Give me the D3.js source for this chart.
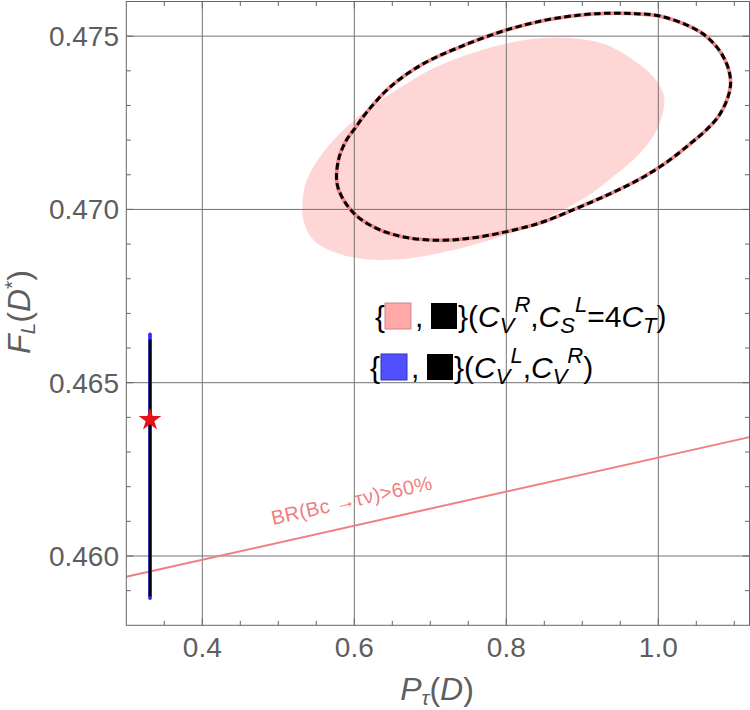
<!DOCTYPE html>
<html><head><meta charset="utf-8">
<script src="https://cdn.jsdelivr.net/npm/d3@7"></script>
<style>body{margin:0;background:#fff} svg{display:block;font-family:"Liberation Sans",Arial,sans-serif}</style>
</head><body>
<svg id="c" width="750" height="710"></svg>
<script>
// ---- data ----
const xTicks = [0.4, 0.6, 0.8, 1.0];
const xLabels = ["0.4", "0.6", "0.8", "1.0"];
const yTicks = [0.460, 0.465, 0.470, 0.475];
const yLabels = ["0.460", "0.465", "0.470", "0.475"];

// filled pink region (C_V^R, C_S^L = 4 C_T)
const fillX = [0.5321,0.5374,0.5549,0.5812,0.6163,0.6558,0.6996,0.7479,0.8005,0.8443,0.8882,0.9321,0.9671,0.9934,1.0066,1.0075,0.9979,0.9759,0.9408,0.9058,0.8663,0.8180,0.7654,0.7128,0.6601,0.6163,0.5768,0.5461,0.5329];
const fillY = [0.47027,0.47085,0.47152,0.47220,0.47287,0.47345,0.47402,0.47446,0.47479,0.47494,0.47494,0.47475,0.47431,0.47383,0.47335,0.47297,0.47229,0.47162,0.47095,0.47037,0.46989,0.46941,0.46903,0.46874,0.46856,0.46856,0.46874,0.46912,0.46970];

// outlined contour (pink solid + black dashed)
const ringX = [0.5772,0.5792,0.5891,0.6022,0.6154,0.6470,0.6904,0.7391,0.8005,0.8532,0.8970,0.9325,0.9693,1.0022,1.0374,1.0592,1.0768,1.0878,1.0937,1.0950,1.0904,1.0790,1.0615,1.0417,1.0115,0.9759,0.9365,0.8878,0.8443,0.8005,0.7562,0.7128,0.6690,0.6338,0.6049,0.5865];
const ringY = [0.47076,0.47143,0.47198,0.47238,0.47278,0.47353,0.47420,0.47469,0.47518,0.47547,0.47561,0.47566,0.47565,0.47558,0.47532,0.47506,0.47469,0.47431,0.47394,0.47359,0.47316,0.47268,0.47226,0.47189,0.47137,0.47088,0.47045,0.46999,0.46961,0.46936,0.46918,0.46911,0.46919,0.46941,0.46978,0.47025];

// (C_V^L, C_V^R) : thin vertical band
const bandX = [0.3312, 0.3312];
const bandY = [0.45878, 0.46640];

// Standard-model point
const starX = [0.3312];
const starY = [0.46393];

// BR(Bc -> tau nu) > 60% boundary
const brX = [0.30, 1.12];
const brY = [0.45940, 0.46343];

// ---- drawing ----
const svg = d3.select("#c");
const x = d3.scaleLinear().domain([0.3, 1.12]).range([126.3, 749.5]);
const y = d3.scaleLinear().domain([0.458, 0.476]).range([625.3, 1.5]);
const [x0, x1] = x.range(), [y0, y1] = y.range();

svg.append("defs").append("clipPath").attr("id", "clip")
  .append("rect").attr("x", x0).attr("y", y1).attr("width", x1 - x0).attr("height", y0 - y1);

const plot = svg.append("g").attr("clip-path", "url(#clip)");
const closed = d3.line().x(d => x(d[0])).y(d => y(d[1])).curve(d3.curveCatmullRomClosed.alpha(0.5));
const straight = d3.line().x(d => x(d[0])).y(d => y(d[1]));

// filled region
plot.append("path").attr("d", closed(d3.zip(fillX, fillY)))
  .attr("fill", "#ffd6d6").attr("stroke", "none");

// gridlines
plot.selectAll(".gx").data(xTicks).join("line")
  .attr("x1", d => x(d)).attr("x2", d => x(d)).attr("y1", y0).attr("y2", y1)
  .attr("stroke", "#737373").attr("stroke-width", 1);
plot.selectAll(".gy").data(yTicks).join("line")
  .attr("y1", d => y(d)).attr("y2", d => y(d)).attr("x1", x0).attr("x2", x1)
  .attr("stroke", "#737373").attr("stroke-width", 1);

// BR line
plot.append("path").attr("d", straight(d3.zip(brX, brY)))
  .attr("stroke", "#f08080").attr("stroke-width", 2).attr("fill", "none");

// BR label
const ang = Math.atan2(y(brY[1]) - y(brY[0]), x(brX[1]) - x(brX[0])) * 180 / Math.PI;
const lx = 273, ly = y(brY[0]) + (lx - x(brX[0])) * Math.tan(ang * Math.PI / 180) - 19;
svg.append("text").attr("transform", `translate(${lx},${ly}) rotate(${ang})`)
  .attr("fill", "#f08080").attr("font-size", 20).attr("textLength", 164)
  .text("BR(Bc →τν)>60%");

// ring contour
const ringD = closed(d3.zip(ringX, ringY));
plot.append("path").attr("d", ringD).attr("fill", "none")
  .attr("stroke", "#f08a8a").attr("stroke-width", 3.8);
plot.append("path").attr("d", ringD).attr("fill", "none")
  .attr("stroke", "#000").attr("stroke-width", 3).attr("stroke-dasharray", "6.5,3.5");

// vertical band
plot.append("path").attr("d", straight(d3.zip(bandX, bandY)))
  .attr("stroke", "#2a2aff").attr("stroke-width", 3.6).attr("stroke-linecap", "round");
plot.append("path").attr("d", straight(d3.zip(bandX, [bandY[0] + 0.00005, bandY[1] - 0.00015])))
  .attr("stroke", "#00000f").attr("stroke-width", 2.8);

// star
svg.selectAll(".star").data(d3.zip(starX, starY)).join("path")
  .attr("transform", d => `translate(${x(d[0])},${y(d[1])})`)
  .attr("d", d3.symbol(d3.symbolStar, 160)())
  .attr("fill", "#e8101a");

// frame and ticks
const axisCol = "#666";
svg.append("rect").attr("x", x0).attr("y", y1).attr("width", x1 - x0).attr("height", y0 - y1)
  .attr("fill", "none").attr("stroke", axisCol).attr("stroke-width", 1);
const xMinor = d3.range(0.35, 1.12, 0.05);
const yMinor = d3.range(0.459, 0.4762, 0.001);
const isMajX = v => xTicks.some(t => Math.abs(t - v) < 1e-6);
const isMajY = v => yTicks.some(t => Math.abs(t - v) < 1e-7);
const tk = svg.append("g").attr("stroke", axisCol).attr("stroke-width", 1);
xMinor.forEach(v => {
  const L = isMajX(v) ? 7 : 4.5;
  tk.append("line").attr("x1", x(v)).attr("x2", x(v)).attr("y1", y0).attr("y2", y0 - L);
  tk.append("line").attr("x1", x(v)).attr("x2", x(v)).attr("y1", y1).attr("y2", y1 + L);
});
yMinor.forEach(v => {
  const L = isMajY(v) ? 7 : 4.5;
  tk.append("line").attr("y1", y(v)).attr("y2", y(v)).attr("x1", x0).attr("x2", x0 + L);
  tk.append("line").attr("y1", y(v)).attr("y2", y(v)).attr("x1", x1).attr("x2", x1 - L);
});

// tick labels
const labCol = "#5e5e5e";
svg.selectAll(".xl").data(xTicks).join("text")
  .attr("x", d => x(d)).attr("y", 657).attr("text-anchor", "middle")
  .attr("font-size", 28).attr("fill", labCol).text((d, i) => xLabels[i]);
svg.selectAll(".yl").data(yTicks).join("text")
  .attr("x", 119).attr("y", d => y(d) + 10).attr("text-anchor", "end")
  .attr("font-size", 28).attr("fill", labCol).text((d, i) => yLabels[i]);

// axis titles
const xt = svg.append("text").attr("x", 437).attr("y", 700).attr("text-anchor", "middle")
  .attr("font-size", 32).attr("fill", labCol);
xt.append("tspan").attr("font-style", "italic").text("P");
xt.append("tspan").attr("font-style", "italic").attr("font-size", 21).attr("dy", 5).text("τ");
xt.append("tspan").attr("dy", -5).text("(");
xt.append("tspan").attr("font-style", "italic").text("D");
xt.append("tspan").text(")");

const yt = svg.append("text").attr("transform", "translate(30,312) rotate(-90)")
  .attr("text-anchor", "middle").attr("font-size", 32).attr("fill", labCol);
yt.append("tspan").attr("font-style", "italic").text("F");
yt.append("tspan").attr("font-style", "italic").attr("font-size", 21).attr("dy", 5).text("L");
yt.append("tspan").attr("dy", -5).text("(");
yt.append("tspan").attr("font-style", "italic").text("D");
yt.append("tspan").attr("font-size", 21).attr("dy", -11).text("*");
yt.append("tspan").attr("dy", 11).text(")");

// legend
function legendRow(base, bx, sq1, sq1c, commaX, sq2, parts) {
  svg.append("text").attr("x", bx).attr("y", base).attr("font-size", 30).text("{");
  svg.append("rect").attr("x", sq1).attr("y", base - 24).attr("width", 26).attr("height", 26)
    .attr("fill", sq1c.f).attr("stroke", sq1c.s).attr("stroke-width", 1);
  svg.append("text").attr("x", commaX).attr("y", base).attr("font-size", 30).text(",");
  svg.append("rect").attr("x", sq2).attr("y", base - 24).attr("width", 26).attr("height", 26)
    .attr("fill", "#000");
  const t = svg.append("text").attr("x", sq2 + 27).attr("y", base).attr("font-size", 30).attr("fill", "#000");
  parts.forEach(p => {
    const s = t.append("tspan").text(p.t);
    if (p.i) s.attr("font-style", "italic");
    if (p.s) s.attr("font-size", p.s);
    if (p.dy) s.attr("dy", p.dy);
  });
}
legendRow(327, 375, 385, {f: "#ffa8a8", s: "#c88"}, 415, 431, [
  {t: "}("}, {t: "C", i: 1}, {t: "V", i: 1, s: 22, dy: 6}, {t: "R", i: 1, s: 22, dy: -21},
  {t: ",", dy: 15}, {t: "C", i: 1}, {t: "S", i: 1, s: 22, dy: 6}, {t: "L", i: 1, s: 22, dy: -21},
  {t: "=4", dy: 15}, {t: "C", i: 1}, {t: "T", i: 1, s: 22, dy: 6}, {t: ")", dy: -6}
]);
legendRow(378, 370, 381, {f: "#5050ff", s: "#33a"}, 411, 427, [
  {t: "}("}, {t: "C", i: 1}, {t: "V", i: 1, s: 22, dy: 6}, {t: "L", i: 1, s: 22, dy: -21},
  {t: ",", dy: 15}, {t: "C", i: 1}, {t: "V", i: 1, s: 22, dy: 6}, {t: "R", i: 1, s: 22, dy: -21},
  {t: ")", dy: 15}
]);
</script>
</body></html>
